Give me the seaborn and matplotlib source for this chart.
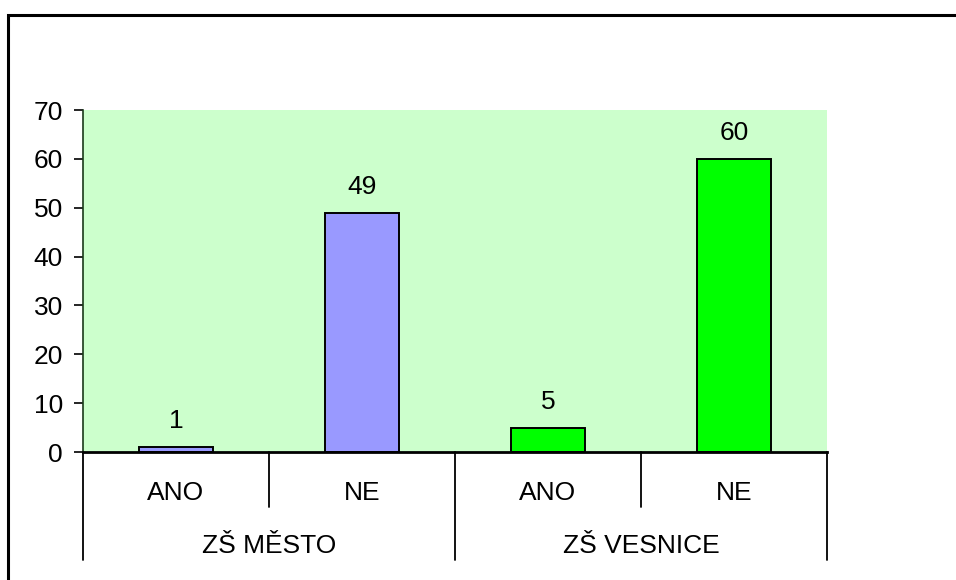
import matplotlib
matplotlib.use("Agg")
import matplotlib.pyplot as plt
import matplotlib.transforms as mtransforms
from matplotlib.patches import Rectangle
import seaborn as sns
import pandas as pd

groups = ["ZŠ MĚSTO", "ZŠ MĚSTO", "ZŠ VESNICE", "ZŠ VESNICE"]
answers = ["ANO", "NE", "ANO", "NE"]
values = [1, 49, 5, 60]
group_colors = {"ZŠ MĚSTO": "#9999ff", "ZŠ VESNICE": "#00ff00"}
yticks = [0, 10, 20, 30, 40, 50, 60, 70]

df = pd.DataFrame({"group": groups, "answer": answers, "value": values})
df["key"] = [f"{g}|{a}" for g, a in zip(groups, answers)]

sns.set_style("white")
plt.rcParams["font.family"] = ["Liberation Sans", "DejaVu Sans"]
plt.rcParams["text.color"] = "black"
plt.rcParams["xtick.color"] = "black"
plt.rcParams["ytick.color"] = "black"
plt.rcParams["axes.labelcolor"] = "black"
FS = 19

fig = plt.figure(figsize=(9.56, 5.80), dpi=100)
ax = fig.add_axes([83/956, 1-452/580, (827-83)/956, (452-110)/580])
ax.set_facecolor("#ccffcc")

sns.barplot(data=df, x="key", y="value", hue="group", palette=group_colors,
            dodge=False, width=0.4, edgecolor="black", linewidth=1.4,
            saturation=1, legend=False, ax=ax, zorder=3)

ax.set_xlim(-0.5, len(values) - 0.5)
ax.set_ylim(0, 70)
ax.set_yticks(yticks)
ax.set_yticklabels([str(t) for t in yticks], fontsize=FS, color="black")
ax.tick_params(axis="y", direction="out", length=6.5, width=1.2, pad=8, color="black",
               labelcolor="black", left=True)
ax.set_xticks(range(len(values)))
ax.set_xticklabels(answers, fontsize=FS, color="black")
ax.tick_params(axis="x", length=0, pad=21)
ax.set_xlabel("")
ax.set_ylabel("")
for s in ["top", "right"]:
    ax.spines[s].set_visible(False)
ax.spines["left"].set_color("#1a3a1a")
ax.spines["left"].set_linewidth(1.2)
ax.spines["bottom"].set_color("black")
ax.spines["bottom"].set_linewidth(2)
ax.spines["bottom"].set_zorder(5)

# value labels
for i, v in enumerate(values):
    ax.annotate(str(v), (i, v), xytext=(0, 14), textcoords="offset pixels",
                ha="center", va="bottom", fontsize=FS, color="black")

# category separators
trans = mtransforms.blended_transform_factory(ax.transData, ax.transAxes)
ppa = 452 - 110  # pixels per axes height
short = -(507 - 452) / ppa
long_ = -(560 - 452) / ppa
for x, y1 in [(-0.5, long_), (0.5, short), (1.5, long_), (2.5, short), (3.5, long_)]:
    ax.plot([x, x], [0, y1], color="black", lw=1.3, transform=trans, clip_on=False)

# group labels
ylab = -(546 - 452) / ppa
seen = []
for i, g in enumerate(groups):
    if g in seen:
        continue
    seen.append(g)
    idx = [j for j, gg in enumerate(groups) if gg == g]
    xc = (idx[0] + idx[-1]) / 2
    ax.text(xc, ylab, g, transform=trans, ha="center", va="center", fontsize=FS, color="black")

# outer frame
fig.patches.append(Rectangle((8/956, -0.1), 1.2, 1 - 15/580 + 0.1, transform=fig.transFigure,
                             fill=False, edgecolor="black", lw=2.2))

fig.savefig("out.png", dpi=100)
